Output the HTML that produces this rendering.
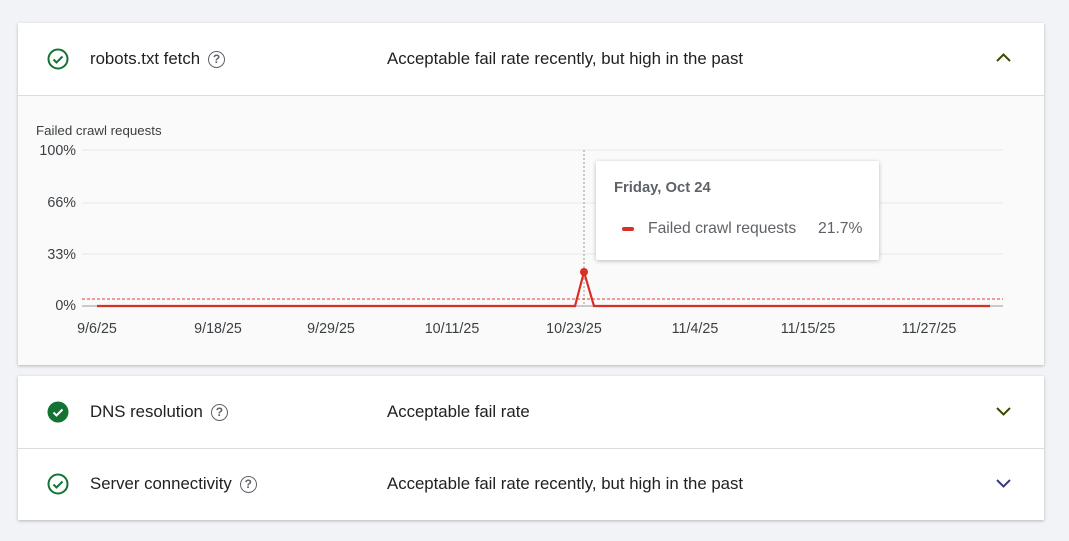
<!DOCTYPE html><html><head><style>
body{margin:0;width:1069px;height:541px;background:#f1f3f6;font-family:"Liberation Sans",sans-serif;position:relative;overflow:hidden}
.card{position:absolute;left:18px;width:1026px;background:#fff;box-shadow:0 1px 3px rgba(0,0,0,.25)}
.row{position:absolute;left:0;width:1026px;height:72px}
.t{position:absolute;top:0;line-height:72px;font-size:16.8px;color:#202124}
.ic{position:absolute;left:29px;top:25px}
.q{display:inline-block;width:15px;height:15px;border:1.5px solid #5f6368;border-radius:50%;font-size:12px;line-height:15px;text-align:center;color:#5f6368;vertical-align:middle;margin-left:8px;font-weight:bold}
.ax{position:absolute;font-size:13px;color:#3c4043}
</style></head><body>
<div class="card" style="top:23px;height:342px">
 <div class="row" style="top:0;border-bottom:1px solid #dadce0">
  <svg class="ic" width="22" height="22"><circle cx="11" cy="11" r="9.5" fill="none" stroke="#137333" stroke-width="2"/><path d="M6.5 11.5l3 3 6-6" fill="none" stroke="#137333" stroke-width="2"/></svg>
  <div class="t" style="left:72px">robots.txt fetch<span class="q">?</span></div>
  <div class="t" style="left:369px">Acceptable fail rate recently, but high in the past</div>
  <svg style="position:absolute;left:978px;top:30px" width="15" height="10"><path d="M1 8l6.5-6.5 6.5 6.5" fill="none" stroke="#3c4a00" stroke-width="2"/></svg>
 </div>
 <div style="position:absolute;top:73px;left:0;width:1026px;height:269px;background:#fafafa"></div>
 <div class="ax" style="left:18px;top:100px;font-size:13.3px">Failed crawl requests</div>
</div>
<svg style="position:absolute;left:0;top:0" width="1069" height="541">
 <g stroke="#e8e8e8"><line x1="82" x2="1003" y1="150" y2="150"/><line x1="82" x2="1003" y1="203" y2="203"/><line x1="82" x2="1003" y1="254" y2="254"/></g>
 <line x1="82" x2="1003" y1="306" y2="306" stroke="#999"/>
 <line x1="584" x2="584" y1="150" y2="306" stroke="#999" stroke-dasharray="2,2"/>
 <line x1="82" x2="1003" y1="299" y2="299" stroke="#e53935" stroke-dasharray="3,2"/>
 <polyline points="97,306 575,306 584,272 594,306 990,306" fill="none" stroke="#d93025" stroke-width="2.2"/>
 <circle cx="584" cy="272" r="4" fill="#d93025"/>
 <g font-size="14.3" fill="#3c4043" font-family="Liberation Sans">
 <text x="76" y="155" text-anchor="end">100%</text><text x="76" y="207" text-anchor="end">66%</text><text x="76" y="259" text-anchor="end">33%</text><text x="76" y="310" text-anchor="end">0%</text>
 <g text-anchor="middle"><text x="97" y="333">9/6/25</text><text x="218" y="333">9/18/25</text><text x="331" y="333">9/29/25</text><text x="452" y="333">10/11/25</text><text x="574" y="333">10/23/25</text><text x="695" y="333">11/4/25</text><text x="808" y="333">11/15/25</text><text x="929" y="333">11/27/25</text></g></g>
</svg>
<div style="position:absolute;left:596px;top:161px;width:283px;height:99px;background:#fff;box-shadow:0 1px 4px rgba(0,0,0,.25);border-radius:2px;font-size:15.7px;color:#5f6368">
 <div style="position:absolute;left:18px;top:19px;font-weight:bold;font-size:14.8px">Friday, Oct 24</div>
 <div style="position:absolute;left:26px;top:66px;width:12px;height:4px;background:#d93025;border-radius:2px"></div>
 <div style="position:absolute;left:52px;top:59px">Failed crawl requests</div>
 <div style="position:absolute;left:222px;top:59px">21.7%</div>
</div>
<div class="card" style="top:376px;height:144px">
 <div class="row" style="top:0;border-bottom:1px solid #dadce0">
  <svg class="ic" width="22" height="22"><circle cx="11" cy="11" r="10.5" fill="#137333"/><path d="M6.5 11.5l3 3 6-6" fill="none" stroke="#fff" stroke-width="2"/></svg>
  <div class="t" style="left:72px">DNS resolution<span class="q">?</span></div>
  <div class="t" style="left:369px">Acceptable fail rate</div>
  <svg style="position:absolute;left:978px;top:30px" width="15" height="10"><path d="M1 2l6.5 6.5 6.5-6.5" fill="none" stroke="#3c4a00" stroke-width="2"/></svg>
 </div>
 <div class="row" style="top:72px">
  <svg class="ic" width="22" height="22"><circle cx="11" cy="11" r="9.5" fill="none" stroke="#137333" stroke-width="2"/><path d="M6.5 11.5l3 3 6-6" fill="none" stroke="#137333" stroke-width="2"/></svg>
  <div class="t" style="left:72px">Server connectivity<span class="q">?</span></div>
  <div class="t" style="left:369px">Acceptable fail rate recently, but high in the past</div>
  <svg style="position:absolute;left:978px;top:30px" width="15" height="10"><path d="M1 2l6.5 6.5 6.5-6.5" fill="none" stroke="#3c3a80" stroke-width="2"/></svg>
 </div>
</div>
</body></html>
